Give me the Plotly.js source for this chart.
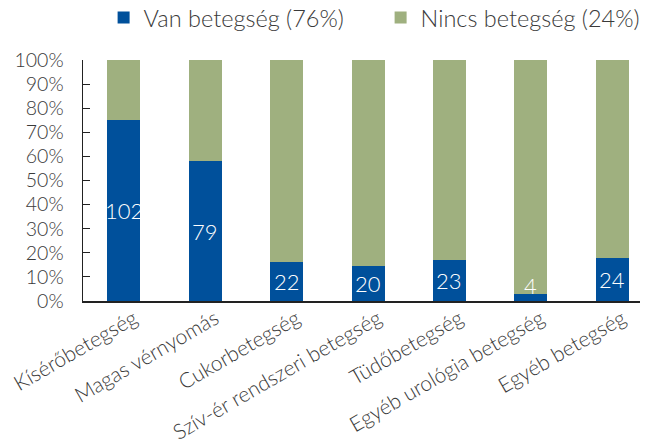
<!DOCTYPE html>
<html><head><meta charset="utf-8">
<script src="https://cdn.plot.ly/plotly-3.0.1.min.js"></script>
<style>body{margin:0;padding:0;background:#fff}#chart{width:648px;height:446px}</style>
</head><body><div id="chart"></div>
<script>
var categories = ["Kísérőbetegség","Magas vérnyomás","Cukorbetegség","Szív-ér rendszeri betegség","Tüdőbetegség","Egyéb urológia betegség","Egyéb betegség"];
var vanValues = [102, 79, 22, 20, 23, 4, 24];
var nincsValues = [34, 57, 114, 116, 113, 132, 112];
var tickVals = [0,10,20,30,40,50,60,70,80,90,100];
var tickText = tickVals.map(function(v){return v+"%";});
var seriesNames = ["Van betegség (76%)","Nincs betegség (24%)"];

var font = "Lato, 'Open Sans', sans-serif";
var data = [
  {type:"bar", x:categories, y:vanValues, name:seriesNames[0],
   marker:{color:"#00509b"}, hoverinfo:"skip"},
  {type:"bar", x:categories, y:nincsValues, name:seriesNames[1],
   marker:{color:"#9fb07f"}, hoverinfo:"skip"}
];
// value labels, placed at the middle of each blue segment (percent scale)
var annotations = categories.map(function(c, i){
  var pct = vanValues[i] / (vanValues[i] + nincsValues[i]) * 100;
  var small = pct < 9;
  return {x:c, y: small ? 0 : pct/2, xref:"x", yref:"y", text:String(vanValues[i]),
          showarrow:false, yanchor: small ? "bottom" : "middle",
          font:{color:"#ffffff", size:22, family:font, weight:300}};
});
var layout = {
  width:648, height:446, barmode:"stack", barnorm:"percent", bargap:0.595,
  margin:{l:83, r:8, t:60, b:145, autoexpand:false},
  paper_bgcolor:"#fff", plot_bgcolor:"#fff",
  font:{family:font, color:"#3a3a3a", size:19, weight:300},
  showlegend:true, annotations:annotations,
  legend:{orientation:"h", x:0.037, xanchor:"left", y:1.175, yanchor:"middle",
          font:{size:23.5, color:"#3a3a3a", weight:300}, traceorder:"normal",
          itemwidth:20, entrywidth:232},
  xaxis:{range:[-0.5, 6.34], showline:true, linecolor:"#222", linewidth:1.5, ticks:"", tickangle:-30,
         ticklabelshift:10, ticklabelstandoff:-4,
         tickfont:{size:21, color:"#3a3a3a", weight:300}, showgrid:false, zeroline:false},
  yaxis:{range:[0,100], tickvals:tickVals, ticktext:tickText, showline:true,
         linecolor:"#222", linewidth:1.5, ticks:"inside", ticklen:7, tickcolor:"#222",
         showgrid:false, zeroline:false, tickfont:{size:19.5, color:"#3a3a3a", weight:300}, ticklabelstandoff:14}
};
Plotly.newPlot("chart", data, layout, {displayModeBar:false, staticPlot:true});
</script></body></html>
